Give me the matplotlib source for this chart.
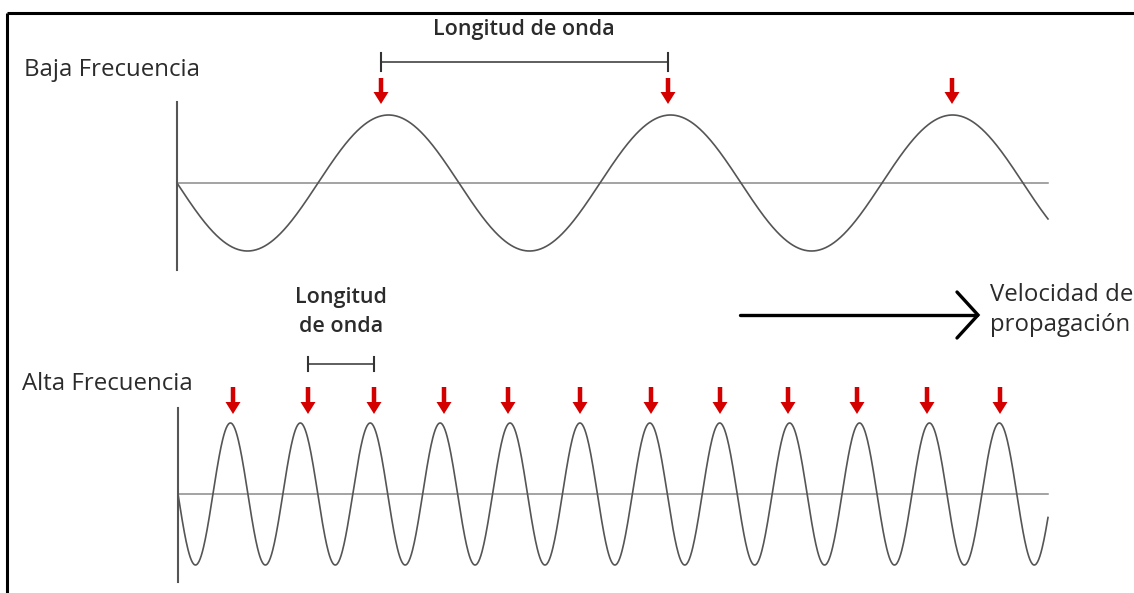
import numpy as np
import matplotlib.pyplot as plt

# ── Diagram values (pixel space of the 1134x593 canvas) ─────────
W, H = 1134, 593

# low frequency wave
low_x0, low_x1 = 177, 1048
low_center = 183
low_amp = 68
low_wavelength = 282
low_arrows_x = [381, 668, 952]

# high frequency wave
high_x0, high_x1 = 178, 1048
high_center = 494
high_amp = 71
high_wavelength = 69.9
high_arrows_x = [233, 308, 374, 444, 508, 580, 651, 720, 788, 857, 927, 1000]

TEXT = "#2b2b2b"
WAVE = "#555555"
AXIS = "#8a8a8a"
RED = "#d40000"

fig = plt.figure(figsize=(W / 100, H / 100), dpi=100)
ax = fig.add_axes([0, 0, 1, 1])
ax.set_xlim(0, W)
ax.set_ylim(H, 0)
ax.axis("off")

# frame (top + left only)
ax.plot([6.5, W], [13, 13], color="black", lw=2.2, solid_capstyle="butt")
ax.plot([6.5, 6.5], [13, H], color="black", lw=2.2, solid_capstyle="butt")


def draw_wave(x0, x1, yc, amp, lam, ax_top, ax_bot):
    x = np.linspace(x0, x1, 1500)
    y = yc + amp * np.sin(2 * np.pi * (x - x0) / lam)
    ax.plot([x0, x1], [yc, yc], color=AXIS, lw=1.1, zorder=1)
    ax.plot([x0, x0], [ax_top, ax_bot], color=WAVE, lw=1.5, zorder=2)
    ax.plot(x, y, color=WAVE, lw=1.2, zorder=3)


def red_arrows(xs, y0, y1):
    for xa in xs:
        ax.arrow(xa, y0, 0, y1 - y0, width=4.5, head_width=15, head_length=12,
                 length_includes_head=True, color=RED, lw=0, zorder=4)


def bracket(xa, xb, y, tick):
    ax.plot([xa, xb], [y, y], color="#333333", lw=1.1)
    for xt in (xa, xb):
        ax.plot([xt, xt], [y - tick, y + tick], color="#333333", lw=1.5)


# low frequency
draw_wave(low_x0, low_x1, low_center, low_amp, low_wavelength, 102, 270)
red_arrows(low_arrows_x, 78, 104)
bracket(low_arrows_x[0], low_arrows_x[1], 62, 9)
ax.text(524, 29, "Longitud de onda", fontsize=15.5, fontweight="semibold",
        family="Open Sans", color=TEXT, ha="center", va="center")
ax.text(24, 70, "Baja Frecuencia", fontsize=17.3, family="Open Sans",
        color=TEXT, ha="left", va="center")

# high frequency
draw_wave(high_x0, high_x1, high_center, high_amp, high_wavelength, 408, 582)
red_arrows(high_arrows_x, 387, 414)
bracket(high_arrows_x[1], high_arrows_x[2], 364, 7)
ax.text(341, 298, "Longitud", fontsize=15.5, fontweight="semibold",
        family="Open Sans", color=TEXT, ha="center", va="center")
ax.text(341, 326, "de onda", fontsize=15.5, fontweight="semibold",
        family="Open Sans", color=TEXT, ha="center", va="center")
ax.text(22, 384, "Alta Frecuencia", fontsize=17.3, family="Open Sans",
        color=TEXT, ha="left", va="center")

# propagation arrow
ax.plot([740, 977], [315, 315], color="black", lw=2.4, solid_capstyle="round")
ax.plot([957, 978, 957], [292, 315, 338], color="black", lw=2.4,
        solid_capstyle="round", solid_joinstyle="miter")
ax.text(990, 295, "Velocidad de", fontsize=17.3, family="Open Sans",
        color=TEXT, ha="left", va="center")
ax.text(990, 325, "propagación", fontsize=17.3, family="Open Sans",
        color=TEXT, ha="left", va="center")

fig.savefig("out.png", dpi=100)
